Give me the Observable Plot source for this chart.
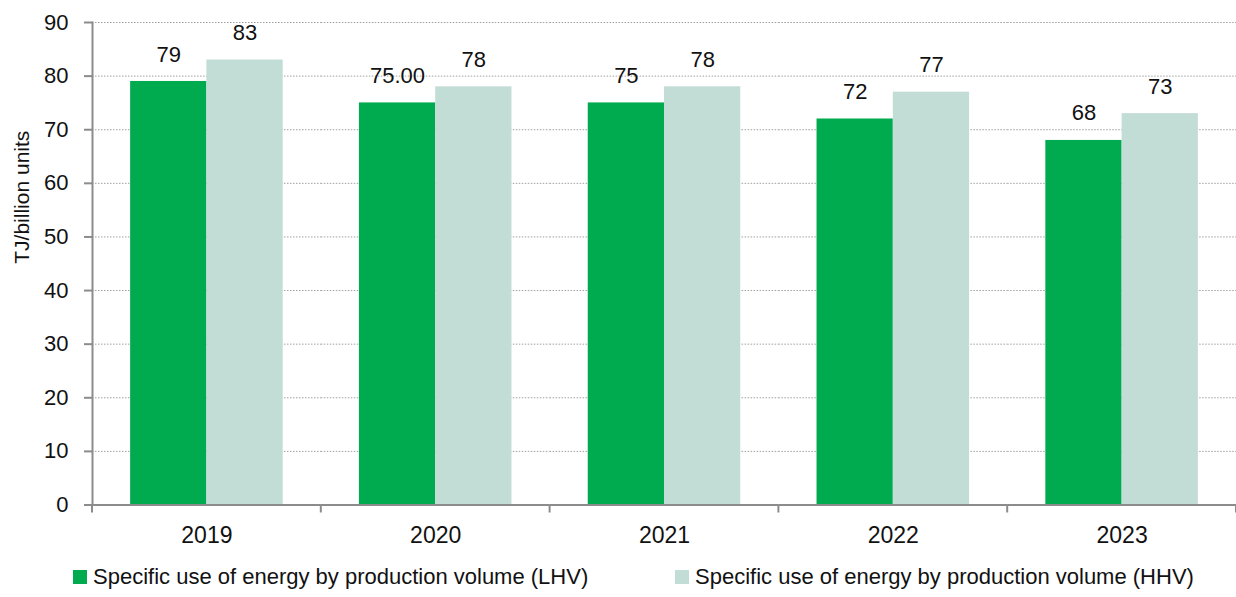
<!DOCTYPE html>
<html>
<head>
<meta charset="utf-8">
<script src="https://cdn.jsdelivr.net/npm/d3@7"></script>
<script src="https://cdn.jsdelivr.net/npm/@observablehq/plot@0.6"></script>
<style>
  html, body { margin: 0; padding: 0; background: #fff; }
  body { width: 1236px; height: 597px; overflow: hidden; font-family: "Liberation Sans", Arial, sans-serif; color: #111; }
  #chart svg { display: block; }
  .legend { position: relative; height: 42px; font-size: 22px; }
  .legend .item { position: absolute; top: 9px; display: flex; align-items: center; white-space: nowrap; }
  .legend .swatch { width: 14px; height: 14px; margin-right: 6px; }
</style>
</head>
<body>
<div id="chart"></div>
<div class="legend" id="legend"></div>
<script>
// Specific energy use per production volume, TJ per billion units
const years = ["2019", "2020", "2021", "2022", "2023"];
const lhvValues = [79, 75, 75, 72, 68];
const hhvValues = [83, 78, 78, 77, 73];
const lhvLabels = ["79", "75.00", "75", "72", "68"];
const hhvLabels = ["83", "78", "78", "77", "73"];
const seriesKeys = ["LHV", "HHV"];
const seriesNames = [
  "Specific use of energy by production volume (LHV)",
  "Specific use of energy by production volume (HHV)"
];
const seriesColors = ["#00aa4e", "#c2dcd6"];
const yTicks = [0, 10, 20, 30, 40, 50, 60, 70, 80, 90];
const yLabel = "TJ/billion units";

const rows = years.flatMap((year, i) => [
  {year, series: "LHV", value: lhvValues[i], label: lhvLabels[i]},
  {year, series: "HHV", value: hhvValues[i], label: hhvLabels[i]}
]);

const axisGrey = "#8c8c8c";

const chart = Plot.plot({
  width: 1236,
  height: 555,
  marginLeft: 92,
  marginRight: 0,
  marginTop: 22,
  marginBottom: 50.5,
  style: {fontFamily: "'Liberation Sans', Arial, sans-serif", fontSize: "22px", color: "#111", background: "#fff"},
  fx: {domain: years, padding: 0, round: false, label: null},
  x: {domain: seriesKeys, paddingInner: 0, paddingOuter: 0.5, round: false, axis: null},
  y: {domain: [0, 90], label: null},
  color: {domain: seriesKeys, range: seriesColors},
  marks: [
    Plot.gridY(yTicks.slice(1), {stroke: "#a0a0a0", strokeOpacity: 1, strokeDasharray: "1.5,1.5"}),
    Plot.barY(rows, {fx: "year", x: "series", y: "value", fill: "series"}),
    Plot.text(rows, {fx: "year", x: "series", y: "value", text: "label", dy: -27, fontSize: 22, fill: "#111"}),
    Plot.ruleY([0], {stroke: axisGrey, strokeWidth: 2}),
    Plot.frame({anchor: "left", facetAnchor: "left", stroke: axisGrey, strokeWidth: 2}),
    Plot.axisY(yTicks, {tickSize: 8, tickPadding: 16, fontSize: 22, stroke: axisGrey, strokeWidth: 2, label: null, facetAnchor: "left"}),
    Plot.text([yLabel], {frameAnchor: "left", rotate: -90, dx: -70, fontSize: 21, fill: "#111", facetAnchor: "left"}),
    Plot.axisFx({anchor: "bottom", tickSize: 0, tickPadding: 22, fontSize: 23, label: null})
  ]
});

document.getElementById("chart").append(chart);

// Category boundary ticks below the x axis, placed with the fx scale
const fx = chart.scale("fx");
const yScale = chart.scale("y");
const y0 = yScale.apply(0);
const bounds = years.map(d => fx.apply(d)).concat([fx.apply(years[years.length - 1]) + fx.bandwidth]);
d3.select(chart).append("g")
  .attr("stroke", axisGrey)
  .attr("stroke-width", 2)
  .selectAll("line")
  .data(bounds)
  .join("line")
  .attr("x1", d => d)
  .attr("x2", d => d)
  .attr("y1", y0)
  .attr("y2", y0 + 8);

// Legend below the chart
const legendLefts = [73, 675];
const legend = d3.select("#legend");
seriesNames.forEach((name, i) => {
  const item = legend.append("div").attr("class", "item").style("left", legendLefts[i] + "px");
  item.append("div").attr("class", "swatch").style("background", seriesColors[i]);
  item.append("span").text(name);
});
</script>
</body>
</html>
